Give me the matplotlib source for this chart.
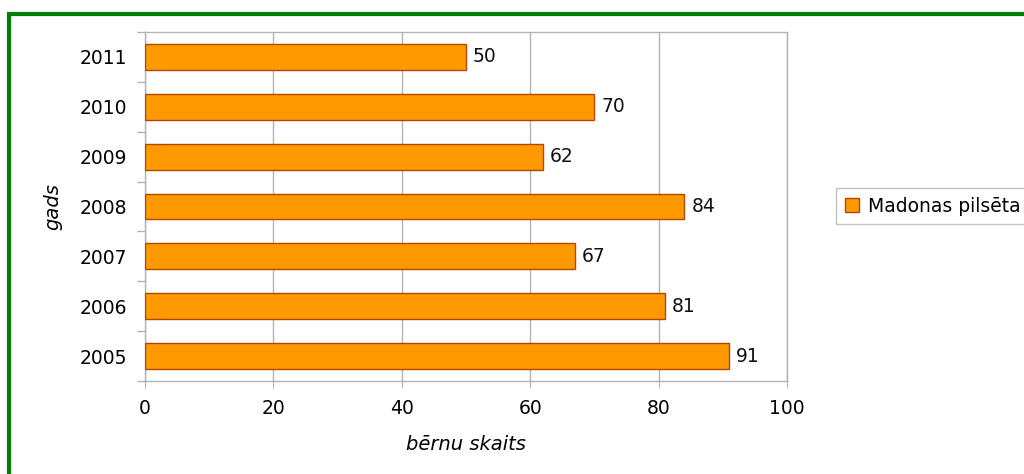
import matplotlib.pyplot as plt
import matplotlib.patches as mpatches
from matplotlib.ticker import FixedLocator

# dati
gadi = ['2005', '2006', '2007', '2008', '2009', '2010', '2011']
berni = [91, 81, 67, 84, 62, 70, 50]
serija = 'Madonas pilsēta'

plt.rcParams['font.family'] = 'DejaVu Sans'
grid_col = '#b3b3b3'
bar_col = '#ff9900'
edge_col = '#b34700'
fs = 13.5

fig = plt.figure(figsize=(10.24, 4.74), dpi=100)
ax = fig.add_axes([145 / 1024, 1 - 381 / 474, 642 / 1024, 349 / 474])

pos = list(range(len(gadi)))
bars = ax.barh(pos, berni, height=0.52, color=bar_col, edgecolor=edge_col,
               linewidth=1.0, label=serija, zorder=3)
for p, v in zip(pos, berni):
    ax.text(v + 1.1, p, str(v), va='center', ha='left', fontsize=fs, color='#111111')

ax.set_xlim(0, 100)
ax.set_ylim(-0.5, len(gadi) - 0.5)
ax.set_xticks([0, 20, 40, 60, 80, 100])
ax.set_yticks(pos)
ax.set_yticklabels(gadi)
ax.yaxis.set_minor_locator(FixedLocator([i - 0.5 for i in range(len(gadi) + 1)]))
ax.tick_params(axis='y', which='major', length=0, pad=13, labelsize=fs)
ax.tick_params(axis='y', which='minor', length=6, color=grid_col, width=1)
ax.tick_params(axis='x', which='major', length=5, color=grid_col, pad=8, labelsize=fs)
ax.xaxis.grid(True, color=grid_col, linewidth=1, zorder=0)
for s in ax.spines.values():
    s.set_color(grid_col)
    s.set_linewidth(1)

ax.set_xlabel('bērnu skaits', fontstyle='italic', fontsize=14, labelpad=12)
ax.set_ylabel('gads', fontstyle='italic', fontsize=14, labelpad=12)

leg = ax.legend(loc='center left', bbox_to_anchor=(827 / 1024, 1 - 206 / 474),
                bbox_transform=fig.transFigure, frameon=True, fancybox=False,
                fontsize=fs, handlelength=0.75, handleheight=0.75,
                handletextpad=0.5, borderpad=0.45)
leg.get_frame().set_edgecolor(grid_col)
leg.get_frame().set_linewidth(1)

# zaļais rāmis
fig.patches.append(mpatches.Rectangle((9 / 1024, -0.1), 1.2, 1 - 14 / 474 + 0.1,
                                      transform=fig.transFigure, fill=False,
                                      edgecolor='#008000', linewidth=3.0))

fig.savefig('out.png', dpi=100)
